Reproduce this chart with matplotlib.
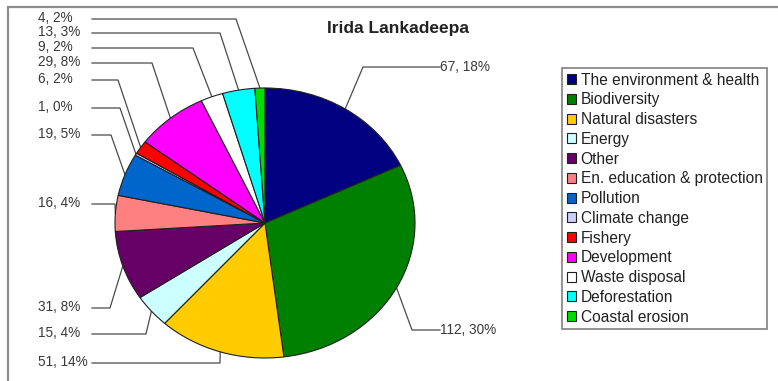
import numpy as np
import matplotlib
matplotlib.use("Agg")
import matplotlib.pyplot as plt

plt.rcParams['font.family'] = ['Liberation Sans', 'DejaVu Sans']

# data
categories = ["The environment & health", "Biodiversity", "Natural disasters", "Energy",
              "Other", "En. education & protection", "Pollution", "Climate change",
              "Fishery", "Development", "Waste disposal", "Deforestation", "Coastal erosion"]
counts = [67, 112, 51, 15, 31, 16, 19, 1, 6, 29, 9, 13, 4]
percents = [18, 30, 14, 4, 8, 4, 5, 0, 2, 8, 2, 3, 2]
colors = ["#000080", "#008000", "#FFCC00", "#CCFFFF", "#660066", "#FF8080", "#0066CC",
          "#CCCCFF", "#FF0000", "#FF00FF", "#FFFFFF", "#00FFFF", "#00DD00"]

# label layout in pixels: (text x, text y, knee x, side)
label_layout = [
    (440, 67, 363, "r"),
    (440, 330, 412, "r"),
    (38, 362, 220, "l"),
    (38, 333, 146, "l"),
    (38, 307, 110, "l"),
    (38, 203, 115, "l"),
    (38, 134, 111, "l"),
    (38, 107, 120, "l"),
    (38, 79, 118, "l"),
    (38, 62, 152, "l"),
    (38, 47, 193, "l"),
    (38, 32, 220, "l"),
    (38, 18, 236, "l"),
]

W, H = 778, 381
fig = plt.figure(figsize=(W / 100, H / 100), dpi=100)
ax = fig.add_axes([0, 0, 1, 1])
ax.set_xlim(0, W)
ax.set_ylim(H, 0)
ax.axis("off")

# chart frame (cropped at right/bottom)
ax.plot([8, 8, W + 5], [H + 5, 7, 7], color="#8c8c8c", lw=1.6, solid_joinstyle="miter")

# pie area in pixels
cx, cy, rx, ry = 265, 223, 150, 135
pax = fig.add_axes([(cx - rx) / W, (H - cy - ry) / H, 2 * rx / W, 2 * ry / H])
wedges, _ = pax.pie(counts, colors=colors, startangle=90, counterclock=False, radius=1,
                    wedgeprops=dict(edgecolor="#202020", linewidth=0.8))
pax.set_xlim(-1, 1)
pax.set_ylim(-1, 1)
pax.set_aspect("auto")
pax.axis("off")

# leader lines and labels
total = sum(counts)
cum = np.cumsum([0] + counts)
for i, (tx, ty, kx, side) in enumerate(label_layout):
    mid = (cum[i] + cum[i + 1]) / 2 / total
    ang = np.deg2rad(90 - 360 * mid)
    ex = cx + rx * np.cos(ang)
    ey = cy - ry * np.sin(ang)
    txt = f"{counts[i]}, {percents[i]}%"
    if side == "l":
        ax.plot([92, kx, ex], [ty + 1, ty + 1, ey], color="#4a4a4a", lw=0.9)
    else:
        ax.plot([tx, kx, ex], [ty, ty, ey], color="#4a4a4a", lw=0.9)
    ax.text(tx, ty, txt, fontsize=9.8, color="#3a3a3a", ha="left", va="center")

ax.text(398, 28, "Irida Lankadeepa", fontsize=12.5, fontweight="bold",
        color="#222222", ha="center", va="center")

leg = ax.legend(wedges, categories, loc="upper left",
                bbox_to_anchor=(562 / W, 1 - 68 / H), bbox_transform=fig.transFigure,
                fontsize=11.2, frameon=True, fancybox=False, framealpha=1,
                edgecolor="#808080", handlelength=0.6, handleheight=0.6,
                handletextpad=0.3, labelspacing=0.305, borderpad=0.3,
                borderaxespad=0)
leg.get_frame().set_linewidth(1.2)
for t in leg.get_texts():
    t.set_color("#222222")

fig.savefig("out.png", dpi=100)
